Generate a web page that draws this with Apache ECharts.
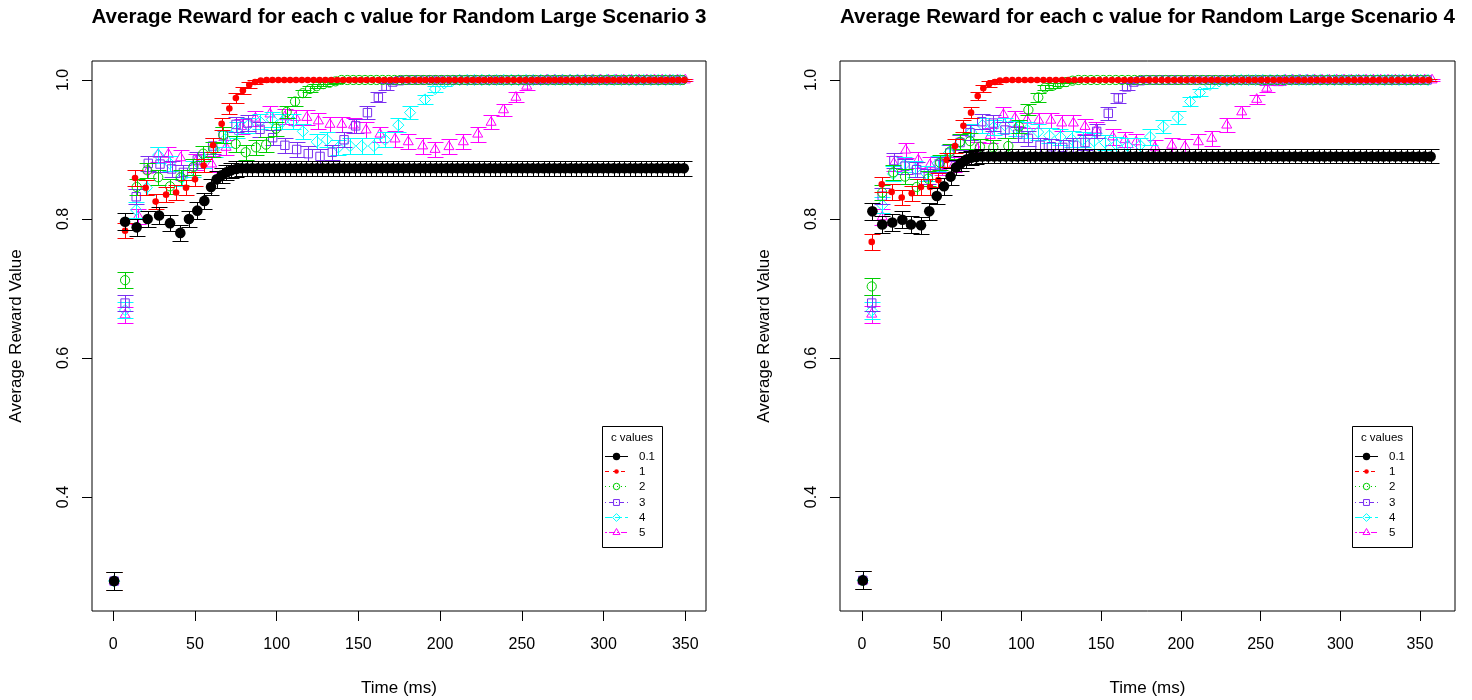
<!DOCTYPE html>
<html>
<head>
<meta charset="utf-8">
<script src="https://cdn.jsdelivr.net/npm/echarts@6/dist/echarts.min.js"></script>
<style>
  html, body { margin: 0; padding: 0; background: #ffffff; }
  #chart { width: 1472px; height: 700px; }
</style>
</head>
<body>
<div id="chart"></div>
<script>
// ---- labels ----
const panelTitles = [
  'Average Reward for each c value for Random Large Scenario 3',
  'Average Reward for each c value for Random Large Scenario 4'
];
const xAxisTitle = 'Time (ms)';
const yAxisTitle = 'Average Reward Value';
const legendTitle = 'c values';
const cValues = ['0.1', '1', '2', '3', '4', '5'];
const xTicks = [0, 50, 100, 150, 200, 250, 300, 350];
const yTicks = [0.4, 0.6, 0.8, 1.0];

// ---- measurements: [time (ms), mean reward, error half-width] ----
// Scenario 3
const s3_c01 = [
  [.5,.279,.013],[7.2,.796,.012],[14.3,.788,.012],[21,.8,.012],[28,.805,.012],[34.7,.794,.012],[41,.78,.012],[46.3,.8,.012],
  [51.4,.812,.012],[55.7,.826,.012],[59.8,.846,.012],[63.3,.857,.012],[66.3,.863,.011],[69.2,.867,.011],[72.1,.87,.011],[75.2,.872,.011],
  [78.5,.873,.011],[81.8,.873,.011],[85.1,.873,.011],[88.4,.873,.011],[91.7,.873,.011],[95,.873,.011],[98.3,.873,.011],[101.6,.873,.011],
  [104.9,.873,.011],[108.2,.873,.011],[111.5,.873,.011],[114.8,.873,.011],[118.1,.873,.011],[121.4,.873,.011],[124.7,.873,.011],[128,.873,.011],
  [131.3,.873,.011],[134.6,.873,.011],[137.9,.873,.011],[141.2,.873,.011],[144.5,.873,.011],[147.8,.873,.011],[151.1,.873,.011],[154.4,.873,.011],
  [157.7,.873,.011],[161,.873,.011],[164.3,.873,.011],[167.6,.873,.011],[170.9,.873,.011],[174.2,.873,.011],[177.5,.873,.011],[180.8,.873,.011],
  [184.1,.873,.011],[187.4,.873,.011],[190.7,.873,.011],[194,.873,.011],[197.3,.873,.011],[200.6,.873,.011],[203.9,.873,.011],[207.2,.873,.011],
  [210.5,.873,.011],[213.8,.873,.011],[217.1,.873,.011],[220.4,.873,.011],[223.7,.873,.011],[227,.873,.011],[230.3,.873,.011],[233.6,.873,.011],
  [236.9,.873,.011],[240.2,.873,.011],[243.5,.873,.011],[246.8,.873,.011],[250.1,.873,.011],[253.4,.873,.011],[256.7,.873,.011],[260,.873,.011],
  [263.3,.873,.011],[266.6,.873,.011],[269.9,.873,.011],[273.2,.873,.011],[276.5,.873,.011],[279.8,.873,.011],[283.1,.873,.011],[286.4,.873,.011],
  [289.7,.873,.011],[293,.873,.011],[296.3,.873,.011],[299.6,.873,.011],[302.9,.873,.011],[306.2,.873,.011],[309.5,.873,.011],[312.8,.873,.011],
  [316.1,.873,.011],[319.4,.873,.011],[322.7,.873,.011],[326,.873,.011],[329.3,.873,.011],[332.6,.873,.011],[335.9,.873,.011],[339.2,.873,.011],
  [342.5,.873,.011],[345.8,.873,.011],[349.1,.873,.011]
];
const s3_c1 = [
  [.5,.279,.013],[7.2,.783,.011],[13.3,.859,.011],[19.8,.845,.011],[25.9,.825,.011],[32.3,.835,.011],[38.4,.838,.011],[44.5,.845,.011],
  [50,.857,.01],[55.3,.877,.01],[61,.906,.01],[66.3,.937,.009],[71,.959,.008],[75,.974,.007],[79.3,.985,.005],[83.2,.993,.004],
  [86.7,.997,.003],[90.2,.999,.002],
  [93.8,1,.002],[97.4,1,.002],[101,1,.002],[104.6,1,.002],[108.2,1,.002],[111.8,1,.002],[115.4,1,.002],[119,1,.002],
  [122.6,1,.002],[126.2,1,.002],[129.8,1,.002],[133.4,1,.002],[137,1,.002],[140.6,1,.002],[144.2,1,.002],[147.8,1,.002],
  [151.4,1,.002],[155,1,.002],[158.6,1,.002],[162.2,1,.002],[165.8,1,.002],[169.4,1,.002],[173,1,.002],[176.6,1,.002],
  [180.2,1,.002],[183.8,1,.002],[187.4,1,.002],[191,1,.002],[194.6,1,.002],[198.2,1,.002],[201.8,1,.002],[205.4,1,.002],
  [209,1,.002],[212.6,1,.002],[216.2,1,.002],[219.8,1,.002],[223.4,1,.002],[227,1,.002],[230.6,1,.002],[234.2,1,.002],
  [237.8,1,.002],[241.4,1,.002],[245,1,.002],[248.6,1,.002],[252.2,1,.002],[255.8,1,.002],[259.4,1,.002],[263,1,.002],
  [266.6,1,.002],[270.2,1,.002],[273.8,1,.002],[277.4,1,.002],[281,1,.002],[284.6,1,.002],[288.2,1,.002],[291.8,1,.002],
  [295.4,1,.002],[299,1,.002],[302.6,1,.002],[306.2,1,.002],[309.8,1,.002],[313.4,1,.002],[317,1,.002],[320.6,1,.002],
  [324.2,1,.002],[327.8,1,.002],[331.4,1,.002],[335,1,.002],[338.6,1,.002],[342.2,1,.002],[345.8,1,.002],[349.4,1,.002]
];
const s3_c2 = [
  [.5,.279,.013],[7.2,.712,.012],[14.3,.846,.011],[20.8,.87,.011],[27.5,.86,.011],[34.7,.847,.011],[41.2,.86,.011],[49,.875,.011],
  [55,.894,.011],[61.2,.9,.011],[67.3,.921,.011],[74.9,.908,.011],[81,.896,.011],[87.3,.903,.011],[93.5,.907,.011],[99.6,.93,.01],
  [106.1,.954,.008],[111.2,.969,.006],[115.9,.981,.005],[120.4,.987,.004],[124.5,.991,.003],[128.5,.994,.003],[132.3,.996,.002],[136,.998,.002],
  [139.6,1,.002],[143.2,1,.002],[146.8,1,.002],[150.4,1,.002],[154,1,.002],[157.6,1,.002],[161.2,1,.002],[164.8,1,.002],
  [168.4,1,.002],[172,1,.002],[175.6,1,.002],[179.2,1,.002],[182.8,1,.002],[186.4,1,.002],[190,1,.002],[193.6,1,.002],
  [197.2,1,.002],[200.8,1,.002],[204.4,1,.002],[208,1,.002],[211.6,1,.002],[215.2,1,.002],[218.8,1,.002],[222.4,1,.002],
  [226,1,.002],[229.6,1,.002],[233.2,1,.002],[236.8,1,.002],[240.4,1,.002],[244,1,.002],[247.6,1,.002],[251.2,1,.002],
  [254.8,1,.002],[258.4,1,.002],[262,1,.002],[265.6,1,.002],[269.2,1,.002],[272.8,1,.002],[276.4,1,.002],[280,1,.002],
  [283.6,1,.002],[287.2,1,.002],[290.8,1,.002],[294.4,1,.002],[298,1,.002],[301.6,1,.002],[305.2,1,.002],[308.8,1,.002],
  [312.4,1,.002],[316,1,.002],[319.6,1,.002],[323.2,1,.002],[326.8,1,.002],[330.4,1,.002],[334,1,.002],[337.6,1,.002],
  [341.2,1,.002],[344.8,1,.002],[348.4,1,.002]
];
const s3_c3 = [
  [.5,.279,.013],[7.2,.679,.012],[14,.832,.011],[21.4,.88,.011],[28.6,.879,.011],[35.7,.872,.011],[42.9,.867,.011],[51.4,.885,.011],
  [60.8,.905,.011],[67.3,.921,.011],[75.1,.936,.011],[82.2,.938,.011],[89.8,.929,.011],[97.5,.917,.011],[105,.906,.011],[112.2,.9,.011],
  [119.3,.894,.011],[126.5,.89,.011],[134,.896,.011],[141.2,.914,.011],[148.3,.934,.01],[155.5,.953,.009],[162.2,.975,.007],[166.9,.991,.005],
  [171,.997,.003],[175,.999,.002],
  [179,1,.002],[183,1,.002],[187,1,.002],[191,1,.002],[195,1,.002],[199,1,.002],[203,1,.002],[207,1,.002],
  [211,1,.002],[215,1,.002],[219,1,.002],[223,1,.002],[227,1,.002],[231,1,.002],[235,1,.002],[239,1,.002],
  [243,1,.002],[247,1,.002],[251,1,.002],[255,1,.002],[259,1,.002],[263,1,.002],[267,1,.002],[271,1,.002],
  [275,1,.002],[279,1,.002],[283,1,.002],[287,1,.002],[291,1,.002],[295,1,.002],[299,1,.002],[303,1,.002],
  [307,1,.002],[311,1,.002],[315,1,.002],[319,1,.002],[323,1,.002],[327,1,.002],[331,1,.002],[335,1,.002],
  [339,1,.002],[343,1,.002],[347,1,.002]
];
const s3_c4 = [
  [.5,.279,.013],[7.2,.669,.012],[14,.813,.011],[20.5,.845,.011],[27.5,.892,.011],[34.5,.88,.011],[41.9,.859,.011],[48.5,.872,.011],
  [55.5,.885,.011],[62,.9,.011],[68.5,.915,.011],[75.5,.928,.011],[82.5,.935,.011],[89.8,.94,.011],[97,.943,.011],[103.5,.94,.011],
  [110,.94,.011],[116,.926,.011],[124.5,.911,.011],[130.6,.914,.011],[137.7,.903,.011],[144.9,.905,.011],[152,.905,.011],[159.5,.905,.011],
  [166.3,.914,.011],[174.4,.935,.01],[181.6,.953,.009],[190.7,.972,.007],[196.9,.987,.005],[202.5,.995,.003],[207.5,.999,.002],
  [212,1,.002],[216.5,1,.002],[221,1,.002],[225.5,1,.002],[230,1,.002],[234.5,1,.002],[239,1,.002],[243.5,1,.002],
  [248,1,.002],[252.5,1,.002],[257,1,.002],[261.5,1,.002],[266,1,.002],[270.5,1,.002],[275,1,.002],[279.5,1,.002],
  [284,1,.002],[288.5,1,.002],[293,1,.002],[297.5,1,.002],[302,1,.002],[306.5,1,.002],[311,1,.002],[315.5,1,.002],
  [320,1,.002],[324.5,1,.002],[329,1,.002],[333.5,1,.002],[338,1,.002],[342.5,1,.002],[347,1,.002]
];
const s3_c5 = [
  [.5,.279,.013],[7.2,.662,.012],[15.3,.804,.011],[21.5,.87,.011],[27.5,.893,.011],[33.7,.893,.011],[41.2,.888,.011],[50.5,.882,.011],
  [60.2,.879,.011],[69,.903,.011],[78.6,.933,.011],[87,.945,.011],[95.9,.951,.011],[105,.947,.011],[111.5,.946,.011],[118.4,.946,.011],
  [125.5,.941,.011],[132.6,.936,.011],[139.8,.936,.011],[147,.935,.011],[154.7,.928,.011],[163.2,.922,.011],[172.4,.915,.011],[180.5,.911,.011],
  [189.3,.905,.011],[196.9,.9,.011],[205.4,.904,.011],[214.2,.911,.011],[223,.922,.011],[231.2,.939,.01],[238.8,.957,.009],[246.4,.975,.007],
  [253,.991,.005],[260.7,.998,.003],
  [265.4,1,.002],[270.1,1,.002],[274.8,1,.002],[279.5,1,.002],[284.2,1,.002],[288.9,1,.002],[293.6,1,.002],[298.3,1,.002],
  [303,1,.002],[307.7,1,.002],[312.4,1,.002],[317.1,1,.002],[321.8,1,.002],[326.5,1,.002],[331.2,1,.002],[335.9,1,.002],
  [340.6,1,.002],[345.3,1,.002],[350,1,.002]
];

// Scenario 4
const s4_c01 = [
  [.5,.28,.013],[6.5,.811,.012],[12.7,.792,.012],[19,.795,.012],[25.3,.799,.012],[30.7,.792,.012],[37,.791,.012],[42.2,.811,.012],
  [46.9,.833,.012],[51.4,.847,.012],[55.6,.861,.012],[58.9,.874,.011],[61.8,.88,.011],[65.2,.885,.011],[68.5,.888,.01],[71.8,.889,.01],
  [75.5,.89,.01],[79.2,.89,.01],[82.9,.89,.01],[86.6,.89,.01],[90.3,.89,.01],[94,.89,.01],[97.7,.89,.01],[101.4,.89,.01],
  [105.1,.89,.01],[108.8,.89,.01],[112.5,.89,.01],[116.2,.89,.01],[119.9,.89,.01],[123.6,.89,.01],[127.3,.89,.01],[131,.89,.01],
  [134.7,.89,.01],[138.4,.89,.01],[142.1,.89,.01],[145.8,.89,.01],[149.5,.89,.01],[153.2,.89,.01],[156.9,.89,.01],[160.6,.89,.01],
  [164.3,.89,.01],[168,.89,.01],[171.7,.89,.01],[175.4,.89,.01],[179.1,.89,.01],[182.8,.89,.01],[186.5,.89,.01],[190.2,.89,.01],
  [193.9,.89,.01],[197.6,.89,.01],[201.3,.89,.01],[205,.89,.01],[208.7,.89,.01],[212.4,.89,.01],[216.1,.89,.01],[219.8,.89,.01],
  [223.5,.89,.01],[227.2,.89,.01],[230.9,.89,.01],[234.6,.89,.01],[238.3,.89,.01],[242,.89,.01],[245.7,.89,.01],[249.4,.89,.01],
  [253.1,.89,.01],[256.8,.89,.01],[260.5,.89,.01],[264.2,.89,.01],[267.9,.89,.01],[271.6,.89,.01],[275.3,.89,.01],[279,.89,.01],
  [282.7,.89,.01],[286.4,.89,.01],[290.1,.89,.01],[293.8,.89,.01],[297.5,.89,.01],[301.2,.89,.01],[304.9,.89,.01],[308.6,.89,.01],
  [312.3,.89,.01],[316,.89,.01],[319.7,.89,.01],[323.4,.89,.01],[327.1,.89,.01],[330.8,.89,.01],[334.5,.89,.01],[338.2,.89,.01],
  [341.9,.89,.01],[345.6,.89,.01],[349.3,.89,.01],[353,.89,.01],[356.7,.89,.01]
];
const s4_c1 = [
  [.5,.28,.013],[6.1,.767,.012],[12.4,.85,.011],[18.6,.839,.011],[24.9,.831,.011],[31.2,.837,.011],[37,.846,.011],[42.7,.846,.011],
  [47.9,.856,.01],[53.1,.885,.01],[58.3,.905,.01],[63.6,.934,.009],[68.4,.953,.008],[72.6,.977,.006],[76.1,.988,.005],[79.7,.994,.004],
  [83.4,.997,.003],[86.5,.999,.002],
  [90.4,1,.002],[94.3,1,.002],[98.2,1,.002],[102.1,1,.002],[106,1,.002],[109.9,1,.002],[113.8,1,.002],[117.7,1,.002],
  [121.6,1,.002],[125.5,1,.002],[129.4,1,.002],[133.3,1,.002],[137.2,1,.002],[141.1,1,.002],[145,1,.002],[148.9,1,.002],
  [152.8,1,.002],[156.7,1,.002],[160.6,1,.002],[164.5,1,.002],[168.4,1,.002],[172.3,1,.002],[176.2,1,.002],[180.1,1,.002],
  [184,1,.002],[187.9,1,.002],[191.8,1,.002],[195.7,1,.002],[199.6,1,.002],[203.5,1,.002],[207.4,1,.002],[211.3,1,.002],
  [215.2,1,.002],[219.1,1,.002],[223,1,.002],[226.9,1,.002],[230.8,1,.002],[234.7,1,.002],[238.6,1,.002],[242.5,1,.002],
  [246.4,1,.002],[250.3,1,.002],[254.2,1,.002],[258.1,1,.002],[262,1,.002],[265.9,1,.002],[269.8,1,.002],[273.7,1,.002],
  [277.6,1,.002],[281.5,1,.002],[285.4,1,.002],[289.3,1,.002],[293.2,1,.002],[297.1,1,.002],[301,1,.002],[304.9,1,.002],
  [308.8,1,.002],[312.7,1,.002],[316.6,1,.002],[320.5,1,.002],[324.4,1,.002],[328.3,1,.002],[332.2,1,.002],[336.1,1,.002],
  [340,1,.002],[343.9,1,.002],[347.8,1,.002],[351.7,1,.002],[355.6,1,.002]
];
const s4_c2 = [
  [.5,.28,.013],[6.1,.703,.012],[12.7,.838,.011],[19.6,.867,.011],[27,.861,.011],[34.3,.846,.011],[41.5,.858,.011],[49,.881,.011],
  [55.2,.897,.011],[61.5,.911,.011],[67.8,.912,.011],[74,.904,.011],[82.4,.903,.011],[91.8,.905,.011],[98.5,.933,.01],[104.4,.957,.008],
  [110.6,.975,.006],[114.8,.989,.004],[120,.992,.003],[124,.995,.003],[128,.997,.002],[132,.999,.002],
  [135.8,1,.002],[139.7,1,.002],[143.6,1,.002],[147.5,1,.002],[151.4,1,.002],[155.3,1,.002],[159.2,1,.002],[163.1,1,.002],
  [167,1,.002],[170.9,1,.002],[174.8,1,.002],[178.7,1,.002],[182.6,1,.002],[186.5,1,.002],[190.4,1,.002],[194.3,1,.002],
  [198.2,1,.002],[202.1,1,.002],[206,1,.002],[209.9,1,.002],[213.8,1,.002],[217.7,1,.002],[221.6,1,.002],[225.5,1,.002],
  [229.4,1,.002],[233.3,1,.002],[237.2,1,.002],[241.1,1,.002],[245,1,.002],[248.9,1,.002],[252.8,1,.002],[256.7,1,.002],
  [260.6,1,.002],[264.5,1,.002],[268.4,1,.002],[272.3,1,.002],[276.2,1,.002],[280.1,1,.002],[284,1,.002],[287.9,1,.002],
  [291.8,1,.002],[295.7,1,.002],[299.6,1,.002],[303.5,1,.002],[307.4,1,.002],[311.3,1,.002],[315.2,1,.002],[319.1,1,.002],
  [323,1,.002],[326.9,1,.002],[330.8,1,.002],[334.7,1,.002],[338.6,1,.002],[342.5,1,.002],[346.4,1,.002],[350.3,1,.002],
  [354.2,1,.002]
];
const s4_c3 = [
  [.5,.28,.013],[6.1,.679,.012],[12.7,.833,.011],[20,.884,.011],[27,.876,.011],[34.3,.871,.011],[41.6,.861,.011],[48.5,.878,.011],
  [55,.895,.011],[61.5,.91,.011],[67.8,.924,.011],[75.1,.94,.011],[82.4,.938,.011],[89.7,.928,.011],[97.7,.922,.011],[104.4,.916,.011],
  [111.7,.906,.011],[118.8,.904,.011],[125.9,.903,.011],[132.6,.906,.011],[139.9,.91,.011],[147.2,.926,.01],[154.5,.952,.009],[160.8,.974,.007],
  [166,.99,.005],[170.5,.997,.003],[174.5,.999,.002],
  [178.5,1,.002],[182.5,1,.002],[186.5,1,.002],[190.5,1,.002],[194.5,1,.002],[198.5,1,.002],[202.5,1,.002],[206.5,1,.002],
  [210.5,1,.002],[214.5,1,.002],[218.5,1,.002],[222.5,1,.002],[226.5,1,.002],[230.5,1,.002],[234.5,1,.002],[238.5,1,.002],
  [242.5,1,.002],[246.5,1,.002],[250.5,1,.002],[254.5,1,.002],[258.5,1,.002],[262.5,1,.002],[266.5,1,.002],[270.5,1,.002],
  [274.5,1,.002],[278.5,1,.002],[282.5,1,.002],[286.5,1,.002],[290.5,1,.002],[294.5,1,.002],[298.5,1,.002],[302.5,1,.002],
  [306.5,1,.002],[310.5,1,.002],[314.5,1,.002],[318.5,1,.002],[322.5,1,.002],[326.5,1,.002],[330.5,1,.002],[334.5,1,.002],
  [338.5,1,.002],[342.5,1,.002],[346.5,1,.002],[350.5,1,.002],[354.5,1,.002]
];
const s4_c4 = [
  [.5,.28,.013],[6.1,.668,.012],[12.7,.82,.011],[19.5,.865,.011],[26.5,.878,.011],[33.5,.872,.011],[40.5,.865,.011],[47.5,.88,.011],
  [54.5,.895,.011],[61.5,.91,.011],[68.5,.925,.011],[75.5,.935,.011],[82.5,.932,.011],[89.5,.935,.011],[96.5,.93,.011],[103.5,.928,.011],
  [110.5,.925,.011],[117.5,.92,.011],[124.5,.918,.011],[131.5,.915,.011],[138.5,.914,.011],[145.5,.912,.011],[152.5,.91,.011],[159.5,.907,.011],
  [166.5,.905,.011],[174.4,.906,.011],[180.7,.918,.011],[189,.933,.01],[198,.946,.009],[205.8,.969,.007],[212,.982,.005],[218.3,.993,.004],
  [224,.998,.003],[229,.999,.002],
  [233.5,1,.002],[238,1,.002],[242.5,1,.002],[247,1,.002],[251.5,1,.002],[256,1,.002],[260.5,1,.002],[265,1,.002],
  [269.5,1,.002],[274,1,.002],[278.5,1,.002],[283,1,.002],[287.5,1,.002],[292,1,.002],[296.5,1,.002],[301,1,.002],
  [305.5,1,.002],[310,1,.002],[314.5,1,.002],[319,1,.002],[323.5,1,.002],[328,1,.002],[332.5,1,.002],[337,1,.002],
  [341.5,1,.002],[346,1,.002],[350.5,1,.002],[355,1,.002]
];
const s4_c5 = [
  [.5,.28,.013],[6.1,.663,.012],[12.7,.803,.011],[20,.88,.011],[27.4,.899,.011],[35.3,.885,.011],[42.6,.878,.011],[50,.875,.011],
  [57.5,.878,.011],[65,.885,.011],[72.5,.9,.011],[80.5,.92,.011],[88.7,.95,.011],[96,.945,.011],[103.3,.942,.011],[110.8,.942,.011],
  [118.4,.942,.011],[125.3,.938,.011],[132.6,.938,.011],[139.9,.933,.011],[147,.928,.011],[157.3,.918,.011],[165,.914,.011],[172,.911,.011],
  [183.8,.903,.011],[194.3,.906,.011],[202.6,.904,.011],[211,.911,.011],[219.4,.916,.011],[228.8,.935,.01],[238.2,.954,.009],[247.6,.972,.007],
  [253.9,.988,.005],[261.2,.996,.003],
  [265.6,1,.002],[270.2,1,.002],[274.8,1,.002],[279.4,1,.002],[284,1,.002],[288.6,1,.002],[293.2,1,.002],[297.8,1,.002],
  [302.4,1,.002],[307,1,.002],[311.6,1,.002],[316.2,1,.002],[320.8,1,.002],[325.4,1,.002],[330,1,.002],[334.6,1,.002],
  [339.2,1,.002],[343.8,1,.002],[348.4,1,.002],[353,1,.002],[357.6,1,.002]
];

const scenario3 = [s3_c01, s3_c1, s3_c2, s3_c3, s3_c4, s3_c5];
const scenario4 = [s4_c01, s4_c1, s4_c2, s4_c3, s4_c4, s4_c5];

// ---- styling ----
const FONT = '"Liberation Sans", Arial, Helvetica, sans-serif';
const seriesColors = ['#000000', '#ff0000', '#00cd00', '#7a2ff0', '#00ffff', '#ff00ff'];
const symbolKinds = ['dot', 'smallDot', 'circle', 'square', 'diamond', 'triangle'];
const legendDashes = [null, [4, 4], [1, 3], [1, 3, 4, 3], [7, 3], [2, 2, 6, 2]];
const CAP = 8;

// Shape for a plotting symbol centred on (x, y); s scales it.
function symbolShape(kind, x, y, s, color) {
  const open = { fill: 'none', stroke: color, lineWidth: 1 };
  switch (kind) {
    case 'dot':
      return { type: 'circle', shape: { cx: x, cy: y, r: 5.3 * s }, style: { fill: color } };
    case 'smallDot':
      return { type: 'circle', shape: { cx: x, cy: y, r: 3.3 * s }, style: { fill: color } };
    case 'circle':
      return { type: 'circle', shape: { cx: x, cy: y, r: 4.6 * s }, style: open };
    case 'square': {
      const h = 4.2 * s;
      return { type: 'rect', shape: { x: x - h, y: y - h, width: 2 * h, height: 2 * h }, style: open };
    }
    case 'diamond': {
      const d = 5.6 * s;
      return { type: 'polygon', shape: { points: [[x, y - d], [x + d, y], [x, y + d], [x - d, y]] }, style: open };
    }
    default: {
      const r = 5.8 * s;
      return { type: 'polygon', shape: { points: [[x, y - r], [x + r * 0.866, y + r * 0.5], [x - r * 0.866, y + r * 0.5]] }, style: open };
    }
  }
}

// Error bar (vertical line with caps) plus symbol for one measurement.
function makeRenderer(k) {
  const color = seriesColors[k];
  const kind = symbolKinds[k];
  return function (params, api) {
    const t = api.value(0), v = api.value(1), e = api.value(2);
    const c = api.coord([t, v]);
    const hi = api.coord([t, v + e]);
    const lo = api.coord([t, v - e]);
    const x = Math.round(c[0]) + 0.5;
    const yHi = Math.round(hi[1]) + 0.5;
    const yLo = Math.round(lo[1]) + 0.5;
    const ls = { stroke: color, lineWidth: 1 };
    return {
      type: 'group',
      children: [
        { type: 'line', shape: { x1: x, y1: yHi, x2: x, y2: yLo }, style: ls },
        { type: 'line', shape: { x1: x - CAP, y1: yHi, x2: x + CAP, y2: yHi }, style: ls },
        { type: 'line', shape: { x1: x - CAP, y1: yLo, x2: x + CAP, y2: yLo }, style: ls },
        symbolShape(kind, c[0], c[1], 1, color)
      ]
    };
  };
}

const panels = [
  { title: panelTitles[0], data: scenario3, left: 92, width: 614, xMin: -13.04, xMax: 362.7, legendX: 602 },
  { title: panelTitles[1], data: scenario4, left: 840, width: 615, xMin: -13.8, xMax: 372.0, legendX: 1352 }
];
const GRID_TOP = 61, GRID_H = 550;
const Y_MIN = 0.236, Y_MAX = 1.0273;

const grids = [], xAxes = [], yAxes = [], series = [], graphics = [];

panels.forEach(function (p, pi) {
  grids.push({ left: p.left, top: GRID_TOP, width: p.width, height: GRID_H, show: true,
    borderColor: '#000', borderWidth: 1, backgroundColor: 'transparent', containLabel: false });
  xAxes.push({
    gridIndex: pi, type: 'value', min: p.xMin, max: p.xMax, position: 'bottom',
    axisLine: { show: false, onZero: false }, splitLine: { show: false },
    axisTick: { show: true, length: 10, customValues: xTicks, lineStyle: { color: '#000', width: 1 } },
    axisLabel: { show: true, customValues: xTicks, margin: 26, color: '#000', fontSize: 16, fontFamily: FONT }
  });
  yAxes.push({
    gridIndex: pi, type: 'value', min: Y_MIN, max: Y_MAX, position: 'left',
    axisLine: { show: false, onZero: false }, splitLine: { show: false },
    axisTick: { show: true, length: 10, customValues: yTicks, lineStyle: { color: '#000', width: 1 } },
    axisLabel: { show: true, customValues: yTicks, rotate: 90, margin: 20, color: '#000', fontSize: 16, fontFamily: FONT,
      formatter: function (v) { return v.toFixed(1); } }
  });

  // higher c drawn first so the c = 0.1 markers sit on top
  for (let k = p.data.length - 1; k >= 0; k--) {
    series.push({
      type: 'custom', name: cValues[k], xAxisIndex: pi, yAxisIndex: pi,
      dimensions: ['time', 'reward', 'err'], encode: { x: 0, y: 1 },
      data: p.data[k], renderItem: makeRenderer(k), silent: true, clip: false, animation: false
    });
  }

  const cx = p.left + p.width / 2;
  graphics.push({ type: 'text', x: cx, y: 17,
    style: { text: p.title, fontFamily: FONT, fontSize: 20.6, fontWeight: 'bold', fill: '#000', textAlign: 'center', textVerticalAlign: 'middle' } });
  graphics.push({ type: 'text', x: cx, y: 688,
    style: { text: xAxisTitle, fontFamily: FONT, fontSize: 17, fill: '#000', textAlign: 'center', textVerticalAlign: 'middle' } });
  graphics.push({ type: 'text', x: p.left - 76, y: GRID_TOP + GRID_H / 2, rotation: Math.PI / 2,
    style: { text: yAxisTitle, fontFamily: FONT, fontSize: 17, fill: '#000', textAlign: 'center', textVerticalAlign: 'middle' } });

  // legend box
  const lx = p.legendX, ly = 426;
  const items = [
    { type: 'rect', shape: { x: lx + 0.5, y: ly + 0.5, width: 60, height: 121 }, style: { fill: '#fff', stroke: '#000', lineWidth: 1 } },
    { type: 'text', x: lx + 30, y: ly + 12,
      style: { text: legendTitle, fontFamily: FONT, fontSize: 11.5, fill: '#000', textAlign: 'center', textVerticalAlign: 'middle' } }
  ];
  cValues.forEach(function (name, k) {
    const ry = Math.round(ly + 30 + k * 15.2) + 0.5;
    items.push({ type: 'line', shape: { x1: lx + 3, y1: ry, x2: lx + 26, y2: ry },
      style: { stroke: seriesColors[k], lineWidth: 1, lineDash: legendDashes[k] } });
    items.push(symbolShape(symbolKinds[k], lx + 14.5, ry, 0.7, seriesColors[k]));
    items.push({ type: 'text', x: lx + 37, y: ry,
      style: { text: name, fontFamily: FONT, fontSize: 11.5, fill: '#000', textAlign: 'left', textVerticalAlign: 'middle' } });
  });
  graphics.push({ type: 'group', z: 100, children: items });
});

const chart = echarts.init(document.getElementById('chart'), null, { renderer: 'canvas' });
chart.setOption({
  animation: false,
  backgroundColor: '#ffffff',
  grid: grids,
  xAxis: xAxes,
  yAxis: yAxes,
  series: series,
  graphic: graphics
});
</script>
</body>
</html>
